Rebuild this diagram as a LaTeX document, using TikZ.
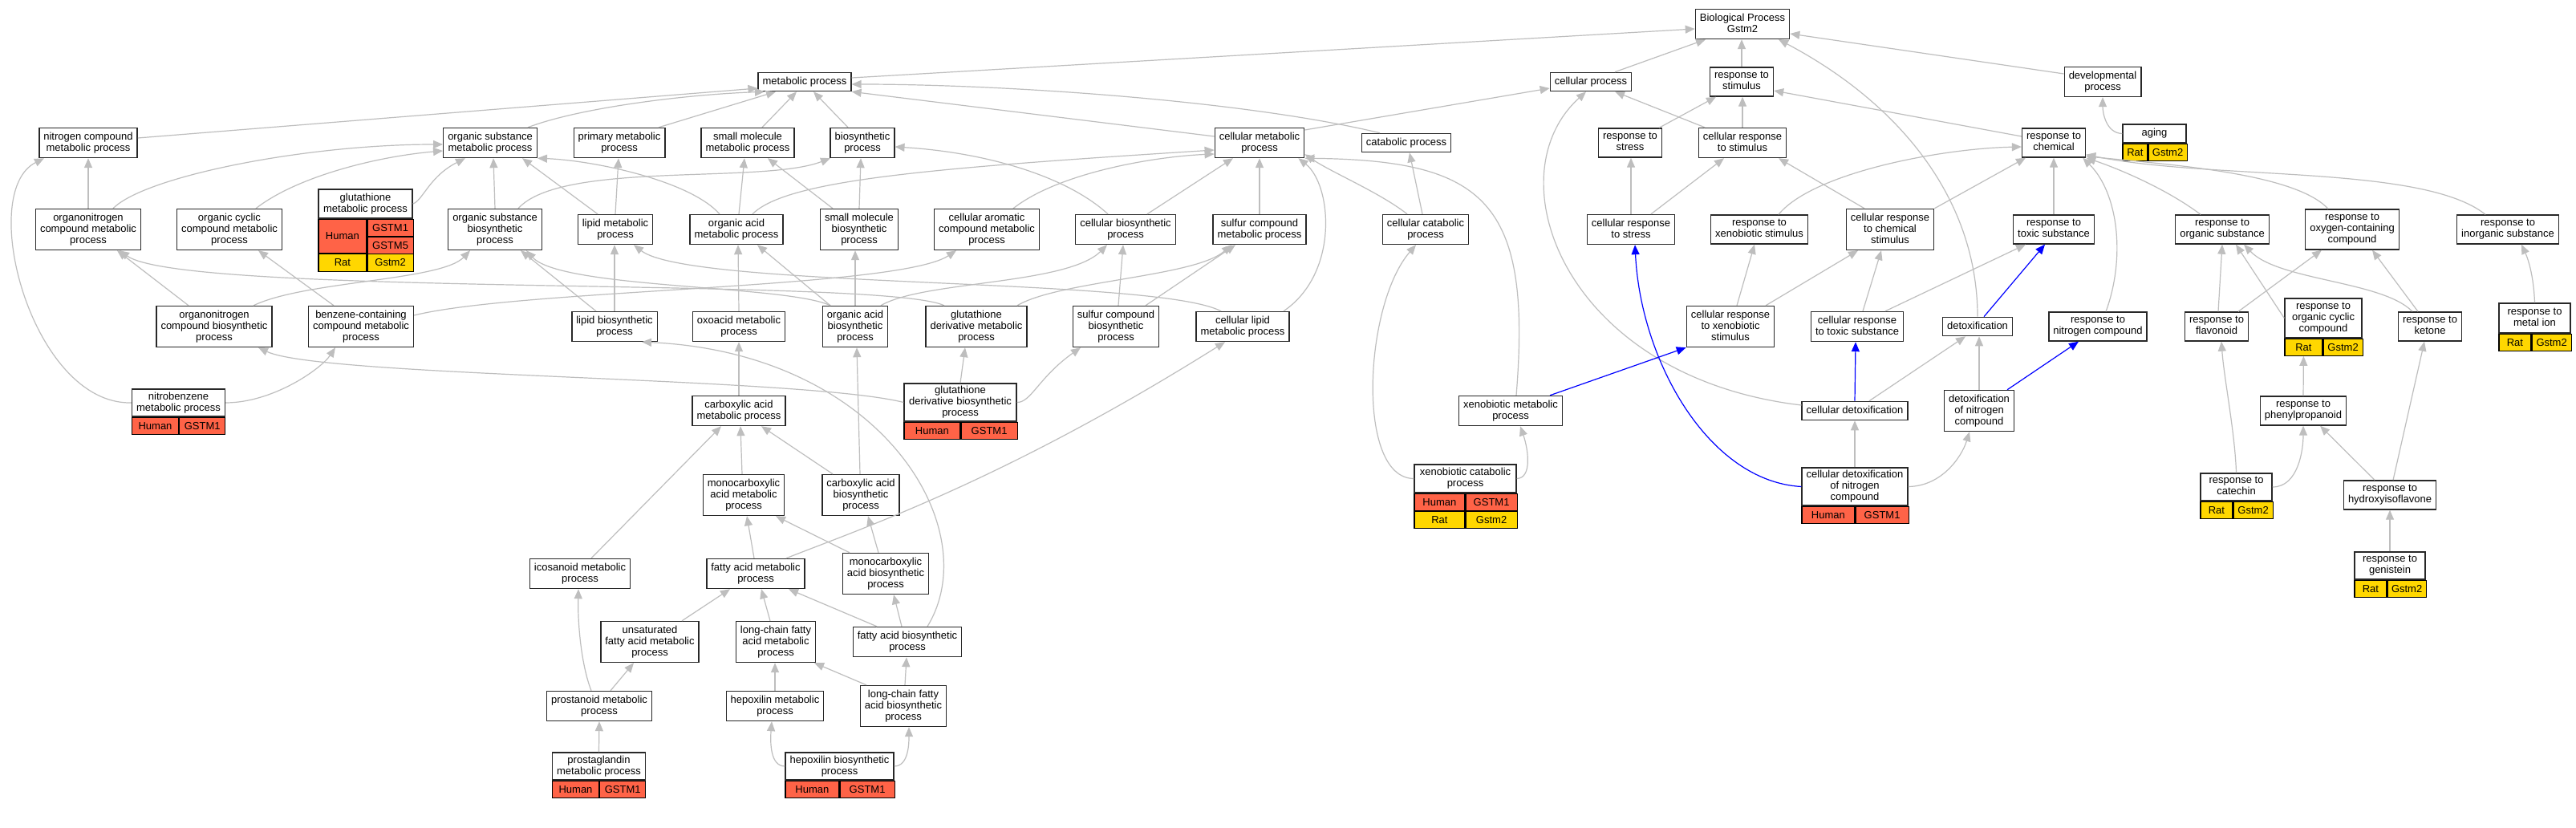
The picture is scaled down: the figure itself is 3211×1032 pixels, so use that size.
\documentclass[tikz,border=0pt]{standalone}
\usepackage{fontspec}
\setmainfont{Liberation Sans}
\usetikzlibrary{arrows.meta,positioning}
\definecolor{edgegray}{RGB}{190,190,190}
\definecolor{hitblue}{RGB}{0,0,255}
\definecolor{humanred}{RGB}{255,99,71}
\definecolor{ratgold}{RGB}{255,215,0}
\definecolor{termline}{RGB}{40,40,40}
\newcommand{\gofont}{\fontsize{13}{14}\selectfont}
\newcommand{\dstrut}{\rule[-2.8pt]{0pt}{12.4pt}}
\tikzset{
  term/.style={draw=termline, line width=1.4pt, fill=white, align=center,
    inner xsep=5.5pt, inner ysep=5.4pt, font=\gofont,
    execute at begin node=\dstrut, execute at end node=\dstrut},
  title/.style={term, inner ysep=2pt},
  cell/.style={draw=black, line width=1.2pt, inner sep=0pt, minimum height=21pt, font=\gofont},
  human/.style={cell, fill=humanred},
  rat/.style={cell, fill=ratgold},
  edge/.style={draw=edgegray, line width=1.2pt, -{Triangle[length=12pt,width=10pt]}},
  hit/.style={edge, draw=hitblue},
}
\begin{document}
\begin{tikzpicture}[x=1pt, y=-1pt]
\path[use as bounding box, fill=white] (0,0) rectangle (3211,1032);

% root and first level
\node[term] (bp) at (2172,30) {Biological Process\\Gstm2};
\node[term] (metab) at (1003,102) {metabolic process};
\node[term] (cellproc) at (1983,102) {cellular process};
\node[term] (respstim) at (2171,102) {response to\\stimulus};
\node[term] (devproc) at (2621,102) {developmental\\process};

\node[term] (nitcomp) at (110,178) {nitrogen compound\\metabolic process};
\node[term] (orgsub) at (611,178) {organic substance\\metabolic process};
\node[term] (primary) at (772,178) {primary metabolic\\process};
\node[term] (smallmol) at (932,178) {small molecule\\metabolic process};
\node[term] (biosyn) at (1075,178) {biosynthetic\\process};
\node[term] (cellmet) at (1570,178) {cellular metabolic\\process};
\node[term] (catab) at (1753,178) {catabolic process};
\node[term] (respstress) at (2032,178) {response to\\stress};
\node[term] (cellrespstim) at (2172,178) {cellular response\\to stimulus};
\node[term] (respchem) at (2560,178) {response to\\chemical};
\node[title, minimum width=79, minimum height=23] (aging) at (2685.5,166.5) {aging};
\node[rat, minimum width=31, below right=0pt and 0pt of aging.south west] (agingR) {Rat};
\node[rat, minimum width=48, right=0pt of agingR] (agingRG) {Gstm2};

\node[term] (orgnitmet) at (110,286) {organonitrogen\\compound metabolic\\process};
\node[term] (orgcyc) at (286,286) {organic cyclic\\compound metabolic\\process};
\node[title, minimum width=117, minimum height=36] (glut) at (455.5,254) {glutathione\\metabolic process};
\node[human, minimum width=60, minimum height=42, below right=0pt and 0pt of glut.south west] (glutH) {Human};
\node[human, minimum width=57, below right=0pt and 0pt of glutH.north east] (glutG) {GSTM1};
\node[human, minimum width=57, below=0pt of glutG] (glutG5) {GSTM5};
\node[rat, minimum width=60, minimum height=22, below right=0pt and 0pt of glutH.south west] (glutR) {Rat};
\node[rat, minimum width=57, minimum height=22, right=0pt of glutR] (glutRG) {Gstm2};
\node[term] (orgsubbio) at (617,286) {organic substance\\biosynthetic\\process};
\node[term] (lipmet) at (767,286) {lipid metabolic\\process};
\node[term] (orgacidmet) at (918,286) {organic acid\\metabolic process};
\node[term] (smallmolbio) at (1071,286) {small molecule\\biosynthetic\\process};
\node[term] (cellarom) at (1230,286) {cellular aromatic\\compound metabolic\\process};
\node[term] (cellbio) at (1403,286) {cellular biosynthetic\\process};
\node[term] (sulfmet) at (1570,286) {sulfur compound\\metabolic process};
\node[term] (cellcatab) at (1777,286) {cellular catabolic\\process};
\node[term] (cellrespstress) at (2033,286) {cellular response\\to stress};
\node[term] (respxeno) at (2193,286) {response to\\xenobiotic stimulus};
\node[term] (cellrespchem) at (2356,286) {cellular response\\to chemical\\stimulus};
\node[term] (resptox) at (2560,286) {response to\\toxic substance};
\node[term] (resporg) at (2770,286) {response to\\organic substance};
\node[term] (respoxy) at (2932,286) {response to\\oxygen-containing\\compound};
\node[term] (respinorg) at (3126,286) {response to\\inorganic substance};

\node[term] (orgnitbio) at (267,407) {organonitrogen\\compound biosynthetic\\process};
\node[term] (benzene) at (450,407) {benzene-containing\\compound metabolic\\process};
\node[term] (lipbio) at (766,407) {lipid biosynthetic\\process};
\node[term] (oxoacid) at (921,407) {oxoacid metabolic\\process};
\node[term] (orgacidbio) at (1066,407) {organic acid\\biosynthetic\\process};
\node[term] (glutdermet) at (1217,407) {glutathione\\derivative metabolic\\process};
\node[term] (sulfbio) at (1391,407) {sulfur compound\\biosynthetic\\process};
\node[term] (celllip) at (1549,407) {cellular lipid\\metabolic process};
\node[term] (cellrespxeno) at (2157,407) {cellular response\\to xenobiotic\\stimulus};
\node[term] (cellresptox) at (2315,407) {cellular response\\to toxic substance};
\node[term] (detox) at (2465,407) {detoxification};
\node[term] (respnit) at (2615,407) {response to\\nitrogen compound};
\node[term] (respflav) at (2763,407) {response to\\flavonoid};
\node[title, minimum width=96, minimum height=49] (orgcycresp) at (2896,396.5) {response to\\organic cyclic\\compound};
\node[rat, minimum width=47, below right=0pt and 0pt of orgcycresp.south west] (orgcycrespR) {Rat};
\node[rat, minimum width=49, right=0pt of orgcycrespR] (orgcycrespRG) {Gstm2};
\node[term] (respket) at (3029,407) {response to\\ketone};
\node[title, minimum width=89, minimum height=37] (metalion) at (3159.5,396.5) {response to\\metal ion};
\node[rat, minimum width=40, below right=0pt and 0pt of metalion.south west] (metalionR) {Rat};
\node[rat, minimum width=49, right=0pt of metalionR] (metalionRG) {Gstm2};

\node[title, minimum width=115, minimum height=34] (nitrobenz) at (222.5,502) {nitrobenzene\\metabolic process};
\node[human, minimum width=58, below right=0pt and 0pt of nitrobenz.south west] (nitrobenzH) {Human};
\node[human, minimum width=57, right=0pt of nitrobenzH] (nitrobenzG) {GSTM1};
\node[term] (carbmet) at (921,512) {carboxylic acid\\metabolic process};
\node[title, minimum width=140, minimum height=47] (glutderbio) at (1197,501.5) {glutathione\\derivative biosynthetic\\process};
\node[human, minimum width=70, below right=0pt and 0pt of glutderbio.south west] (glutderbioH) {Human};
\node[human, minimum width=70, right=0pt of glutderbioH] (glutderbioG) {GSTM1};
\node[term] (xenomet) at (1883,512) {xenobiotic metabolic\\process};
\node[term] (celldetox) at (2312,512) {cellular detoxification};
\node[term] (detoxnit) at (2467,512) {detoxification\\of nitrogen\\compound};
\node[term] (phenyl) at (2871,512) {response to\\phenylpropanoid};

\node[term] (monocarbmet) at (927,617) {monocarboxylic\\acid metabolic\\process};
\node[term] (carbbio) at (1073,617) {carboxylic acid\\biosynthetic\\process};
\node[title, minimum width=127, minimum height=35] (xenocat) at (1826.5,596.5) {xenobiotic catabolic\\process};
\node[human, minimum width=63, below right=0pt and 0pt of xenocat.south west] (xenocatH) {Human};
\node[human, minimum width=64, right=0pt of xenocatH] (xenocatG) {GSTM1};
\node[rat, minimum width=63, below right=0pt and 0pt of xenocatH.south west] (xenocatR) {Rat};
\node[rat, minimum width=64, right=0pt of xenocatR] (xenocatRG) {Gstm2};
\node[title, minimum width=132, minimum height=47] (celldetoxnit) at (2312,606.5) {cellular detoxification\\of nitrogen\\compound};
\node[human, minimum width=66, below right=0pt and 0pt of celldetoxnit.south west] (celldetoxnitH) {Human};
\node[human, minimum width=66, right=0pt of celldetoxnitH] (celldetoxnitG) {GSTM1};
\node[title, minimum width=89, minimum height=34] (catechin) at (2787.5,607) {response to\\catechin};
\node[rat, minimum width=40, below right=0pt and 0pt of catechin.south west] (catechinR) {Rat};
\node[rat, minimum width=49, right=0pt of catechinR] (catechinRG) {Gstm2};
\node[term] (hydroxy) at (2979,617) {response to\\hydroxyisoflavone};

\node[term] (icosanoid) at (723,715) {icosanoid metabolic\\process};
\node[term] (fattymet) at (942,715) {fatty acid metabolic\\process};
\node[term] (monocarbbio) at (1104,715) {monocarboxylic\\acid biosynthetic\\process};
\node[title, minimum width=88, minimum height=34] (genistein) at (2979,705) {response to\\genistein};
\node[rat, minimum width=40, below right=0pt and 0pt of genistein.south west] (genisteinR) {Rat};
\node[rat, minimum width=48, right=0pt of genisteinR] (genisteinRG) {Gstm2};

\node[term] (unsat) at (810,800) {unsaturated\\fatty acid metabolic\\process};
\node[term] (lcfamet) at (967,800) {long-chain fatty\\acid metabolic\\process};
\node[term] (fattybio) at (1131,800) {fatty acid biosynthetic\\process};

\node[term] (prostanoid) at (747,880) {prostanoid metabolic\\process};
\node[term] (hepmet) at (966,880) {hepoxilin metabolic\\process};
\node[term] (lcfabio) at (1126,880) {long-chain fatty\\acid biosynthetic\\process};

\node[title, minimum width=115, minimum height=34] (prostaglandin) at (746.5,955) {prostaglandin\\metabolic process};
\node[human, minimum width=58, below right=0pt and 0pt of prostaglandin.south west] (prostaglandinH) {Human};
\node[human, minimum width=57, right=0pt of prostaglandinH] (prostaglandinG) {GSTM1};
\node[title, minimum width=135, minimum height=34] (hepbio) at (1046.5,955) {hepoxilin biosynthetic\\process};
\node[human, minimum width=67, below right=0pt and 0pt of hepbio.south west] (hepbioH) {Human};
\node[human, minimum width=68, right=0pt of hepbioH] (hepbioG) {GSTM1};

% is_a edges, top of the graph
\draw[edge] ([yshift=5]metab.east) -- ([yshift=-6]bp.west);
\draw[edge] ([xshift=30]cellproc.north) -- ([xshift=-46]bp.south);
\draw[edge] (respstim.north) -- ([xshift=-1]bp.south);
\draw[edge] ([yshift=10]devproc.west) -- ([yshift=-12]bp.east);
\draw[edge] (detox.north) .. controls (2465,250) and (2370,130) .. ([xshift=45]bp.south);

\draw[edge] ([yshift=6]nitcomp.east) -- ([yshift=-8]metab.west);
\draw[edge] ([xshift=47]orgsub.north) .. controls (720,135) and (850,118) .. ([xshift=-50]metab.south);
\draw[edge] ([xshift=49]primary.north) -- ([xshift=-36]metab.south);
\draw[edge] ([xshift=18]smallmol.north) -- ([xshift=-10]metab.south);
\draw[edge] ([xshift=-18]biosyn.north) -- ([xshift=11]metab.south);
\draw[edge] ([yshift=8]cellmet.west) -- (metab.south east);
\draw[edge] ([xshift=-33]catab.north) .. controls (1550,125) and (1250,105) .. ([yshift=-3]metab.east);

\draw[edge] ([yshift=16]cellmet.east) -- ([yshift=-8]cellproc.west);
\draw[edge] ([xshift=-47]cellrespstim.north) -- ([xshift=30]cellproc.south);
\draw[edge] ([yshift=7]celldetox.west) .. controls (1950,470) and (1860,220) .. ([xshift=-6]cellproc.south);
\draw[edge] ([xshift=36]respstress.north) -- ([xshift=-32]respstim.south);
\draw[edge] (cellrespstim.north) -- ([xshift=1]respstim.south);
\draw[edge] ([yshift=8]respchem.west) -- ([yshift=-11]respstim.east);

% stimulus side
\draw[edge] (cellrespstress.north) -- ([xshift=1]respstress.south);
\draw[edge] ([xshift=25]cellrespstress.north) -- ([xshift=-23]cellrespstim.south);
\draw[edge] ([xshift=-32]cellrespchem.north) -- ([xshift=45]cellrespstim.south);
\draw[edge] ([xshift=24]respxeno.north) .. controls (2260,215) and (2420,185) .. ([yshift=-5]respchem.west);
\draw[edge] (cellrespchem.north east) -- ([xshift=-35]respchem.south);
\draw[edge] ([xshift=8]cellrespxeno.north) -- ([xshift=-6]respxeno.south);
\draw[edge] ([xshift=44]cellrespxeno.north) -- ([xshift=-40]cellrespchem.south);
\draw[edge] ([xshift=7]cellresptox.north) -- ([xshift=-11]cellrespchem.south);
\draw[edge] ([xshift=35]cellresptox.north) -- ([xshift=-35]resptox.south);
\draw[hit] ([xshift=49]xenomet.north) -- (cellrespxeno.south west);
\draw[hit] (celldetox.north) -- ([xshift=-2]cellresptox.south);
\draw[edge] ([xshift=18]celldetox.north) -- ([xshift=-15]detox.south);
\draw[edge] (celldetoxnit.north) -- (celldetox.south);
\draw[hit] (celldetoxnit.west) .. controls (2130,600) and (2045,450) .. ([xshift=5]cellrespstress.south);
\draw[edge] (celldetoxnit.east) .. controls (2420,606) and (2445,570) .. ([xshift=-12]detoxnit.south);
\draw[edge] (detoxnit.north) -- ([xshift=2]detox.south);
\draw[hit] ([xshift=35]detoxnit.north) -- ([xshift=-24]respnit.south);
\draw[hit] ([xshift=8]detox.north) -- ([xshift=-11]resptox.south);

\draw[edge] (resptox.north) -- (respchem.south);
\draw[edge] ([xshift=10]respnit.north) .. controls (2650,320) and (2640,240) .. ([xshift=-4]respchem.south east);
\draw[edge] ([xshift=-27]resporg.north) .. controls (2700,235) and (2640,210) .. (respchem.south east);
\draw[edge] ([xshift=-30]respoxy.north) .. controls (2860,215) and (2700,205) .. ([yshift=2]respchem.south east);
\draw[edge] ([xshift=-28]respinorg.north) .. controls (3020,205) and (2760,225) .. ([yshift=4]respchem.south east);
\draw[edge] ([xshift=2]respflav.north) -- (resporg.south);
\draw[edge] ([xshift=27]respflav.north) -- ([xshift=-38]respoxy.south);
\draw[edge] (orgcycresp.west) -- ([xshift=17]resporg.south);
\draw[edge] ([xshift=-22]respket.north) .. controls (2970,350) and (2840,350) .. ([xshift=27]resporg.south);
\draw[edge] ([xshift=-15]respket.north) -- ([xshift=25]respoxy.south);
\draw[edge] (metalion.north) .. controls (3158,340) and (3150,320) .. ([xshift=17]respinorg.south);
\draw[edge] (phenyl.north) -- (orgcycrespR.south);
\draw[edge] (catechin.north) .. controls (2786,540) and (2772,470) .. ([xshift=6]respflav.south);
\draw[edge] (catechin.east) .. controls (2865,607) and (2871,560) .. (phenyl.south);
\draw[edge] ([xshift=-19]hydroxy.north) -- ([xshift=21]phenyl.south);
\draw[edge] ([xshift=4]hydroxy.north) -- ([xshift=-7]respket.south);
\draw[edge] (genistein.north) -- (hydroxy.south);
\draw[edge] (aging.west) .. controls (2625,166) and (2621,140) .. (devproc.south);

% metabolic side
\draw[edge] (orgnitmet.north) -- (nitcomp.south);
\draw[edge] ([xshift=31]orgnitmet.north) .. controls (180,220) and (380,180) .. ([yshift=-2]orgsub.west);
\draw[edge] ([xshift=33]orgcyc.north) .. controls (370,220) and (470,195) .. ([yshift=-10]orgsub.west);
\draw[edge] (glut.east) .. controls (527,250) and (535,220) .. ([xshift=-31]orgsub.south);
\draw[edge] (orgsubbio.north) -- ([xshift=4]orgsub.south);
\draw[edge] ([xshift=-22]lipmet.north) -- ([xshift=40]orgsub.south);
\draw[edge] ([xshift=-21]orgacidmet.north) .. controls (860,225) and (740,200) .. (orgsub.south east);
\draw[edge] (lipmet.north) -- ([xshift=-1]primary.south);
\draw[edge] ([xshift=3]orgacidmet.north) -- ([xshift=-4]smallmol.south);
\draw[edge] ([xshift=-33]smallmolbio.north) -- ([xshift=25]smallmol.south);
\draw[edge] (smallmolbio.north) -- ([xshift=-2]biosyn.south);
\draw[edge] ([xshift=29]orgsubbio.north) .. controls (700,200) and (950,230) .. ([xshift=-40]biosyn.south);
\draw[edge] ([xshift=-22]cellbio.north) .. controls (1330,220) and (1230,190) .. ([yshift=-5]biosyn.east);
\draw[edge] ([xshift=20]orgacidmet.north) .. controls (980,225) and (1150,210) .. ([yshift=-9]cellmet.west);
\draw[edge] ([xshift=33]cellarom.north) .. controls (1320,215) and (1440,195) .. ([yshift=-14]cellmet.west);
\draw[edge] ([xshift=27]cellbio.north) -- ([xshift=-33]cellmet.south);
\draw[edge] (sulfmet.north) -- (cellmet.south);
\draw[edge] ([xshift=-23]cellcatab.north) .. controls (1720,240) and (1660,215) .. ([yshift=5]cellmet.south east);
\draw[edge] ([xshift=7]xenomet.north) .. controls (1910,250) and (1850,200) .. (cellmet.south east);
\draw[edge] ([xshift=51]celllip.north) .. controls (1670,340) and (1660,230) .. ([xshift=-8]cellmet.south east);
\draw[edge] ([xshift=-4]cellcatab.north) -- ([xshift=4]catab.south);
\draw[edge] (xenocat.west) .. controls (1690,596) and (1700,380) .. ([xshift=-12]cellcatab.south);
\draw[edge] (xenocat.east) .. controls (1910,596) and (1905,560) .. ([xshift=12]xenomet.south);

\draw[edge] ([xshift=37]sulfbio.north) -- ([xshift=-30]sulfmet.south);
\draw[edge] ([xshift=51]glutdermet.north) .. controls (1320,350) and (1490,345) .. ([xshift=-35]sulfmet.south);
\draw[edge] ([xshift=3]sulfbio.north) -- ([xshift=-3]cellbio.south);
\draw[edge] ([xshift=32]orgacidbio.north) .. controls (1150,350) and (1330,355) .. ([xshift=-23]cellbio.south);
\draw[edge] ([xshift=-31]orgacidbio.north) -- ([xshift=26]orgacidmet.south);
\draw[edge] (orgacidbio.north) -- ([xshift=-5]smallmolbio.south);
\draw[edge] ([xshift=-31]orgacidbio.north) .. controls (980,355) and (700,360) .. ([xshift=39]orgsubbio.south);
\draw[edge] ([xshift=-27]celllip.north) .. controls (1440,345) and (860,360) .. ([xshift=23]lipmet.south);
\draw[edge] ([xshift=-40]glutdermet.north) .. controls (1100,345) and (230,370) .. ([xshift=39]orgnitmet.south);
\draw[edge] ([yshift=14]benzene.east) .. controls (650,360) and (1120,360) .. ([xshift=-38]cellarom.south);
\draw[edge] ([xshift=-34]benzene.north) -- ([xshift=36]orgcyc.south);
\draw[edge] ([xshift=-32]orgnitbio.north) -- ([xshift=36]orgnitmet.south);
\draw[edge] ([xshift=49]orgnitbio.north) .. controls (380,350) and (550,350) .. ([xshift=-31]orgsubbio.south);
\draw[edge] ([xshift=-23]lipbio.north) -- ([xshift=32]orgsubbio.south);
\draw[edge] (lipbio.north) -- ([xshift=-1]lipmet.south);
\draw[edge] (nitrobenz.west) .. controls (40,505) and (-30,240) .. ([xshift=-55]nitcomp.south);
\draw[edge] (nitrobenz.east) .. controls (340,502) and (400,460) .. ([xshift=-32]benzene.south);
\draw[edge] (glutderbio.west) .. controls (1000,470) and (400,470) .. ([xshift=55]orgnitbio.south);
\draw[edge] (glutderbio.north) -- ([xshift=-14]glutdermet.south);
\draw[edge] (glutderbio.east) .. controls (1285,502) and (1295,470) .. ([xshift=-44]sulfbio.south);

% acids and lipids
\draw[edge] (oxoacid.north) -- ([xshift=2]orgacidmet.south);
\draw[edge] (carbmet.north) -- (oxoacid.south);
\draw[edge] ([xshift=-1]carbbio.north) -- ([xshift=2]orgacidbio.south);
\draw[edge] ([xshift=-35]carbbio.north) -- ([xshift=28]carbmet.south);
\draw[edge] ([xshift=-2]monocarbmet.north) -- ([xshift=2]carbmet.south);
\draw[edge] ([xshift=14]icosanoid.north) -- ([xshift=-22]carbmet.south);
\draw[edge] ([xshift=-2]fattymet.north) -- ([xshift=4]monocarbmet.south);
\draw[edge] ([xshift=38]fattymet.north) .. controls (1070,660) and (1250,600) .. ([xshift=-22]celllip.south);
\draw[edge] ([xshift=-45]monocarbbio.north) -- ([xshift=40]monocarbmet.south);
\draw[edge] ([xshift=-9]monocarbbio.north) -- ([xshift=9]carbbio.south);
\draw[edge] ([xshift=40]unsat.north) -- ([xshift=-32]fattymet.south);
\draw[edge] ([xshift=-7]lcfamet.north) -- ([xshift=7]fattymet.south);
\draw[edge] ([xshift=-38]fattybio.north) -- ([xshift=41]fattymet.south);
\draw[edge] ([xshift=-7]fattybio.north) -- ([xshift=10]monocarbbio.south);
\draw[edge] ([xshift=25]fattybio.north) .. controls (1230,660) and (1100,440) .. ([xshift=34]lipbio.south);
\draw[edge] ([xshift=-46]lcfabio.north) -- ([xshift=48]lcfamet.south);
\draw[edge] ([xshift=2]lcfabio.north) -- ([xshift=-1]fattybio.south);
\draw[edge] (hepmet.north) -- ([xshift=-1]lcfamet.south);
\draw[edge] ([xshift=-10]prostanoid.north) .. controls (725,830) and (720,780) .. ([xshift=-2]icosanoid.south);
\draw[edge] ([xshift=14]prostanoid.north) -- ([xshift=-20]unsat.south);
\draw[edge] (prostaglandin.north) -- (prostanoid.south);
\draw[edge] (hepbio.west) .. controls (960,955) and (960,925) .. ([xshift=-4]hepmet.south);
\draw[edge] (hepbio.east) .. controls (1133,955) and (1133,925) .. ([xshift=7]lcfabio.south);
\end{tikzpicture}
\end{document}
